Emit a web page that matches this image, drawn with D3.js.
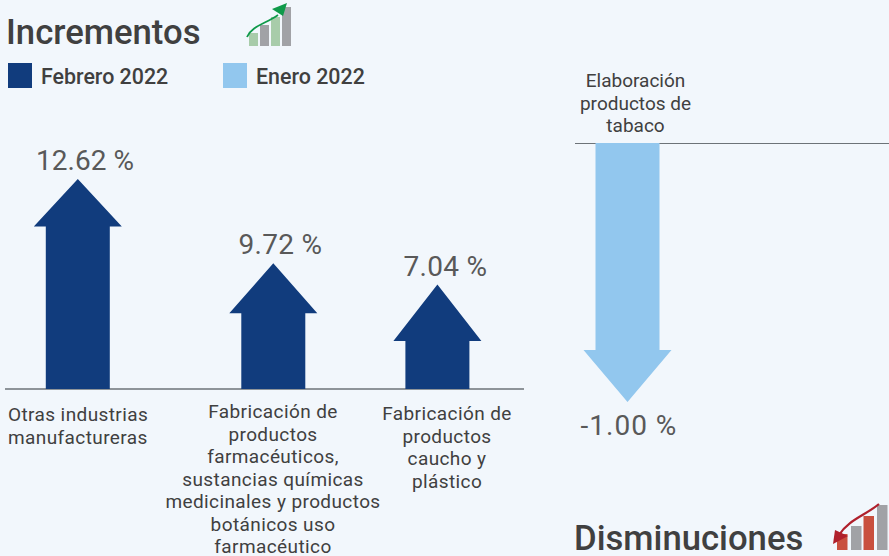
<!DOCTYPE html>
<html><head><meta charset="utf-8">
<script src="https://cdn.jsdelivr.net/npm/d3@7/dist/d3.min.js"></script>
<style>html,body{margin:0;padding:0;background:#f2f7fc}svg{display:block}text{font-family:Roboto,sans-serif;fill:#404040}</style>
</head><body><svg id="c" width="889" height="556"></svg>
<script>
const upCategories = [
  ["Otras industrias","manufactureras"],
  ["Fabricación de","productos","farmacéuticos,","sustancias químicas","medicinales y productos","botánicos uso","farmacéutico"],
  ["Fabricación de","productos","caucho y","plástico"]
];
const upValues = [12.62, 9.72, 7.04];
const downCategories = [["Elaboración","productos de","tabaco"]];
const downValues = [-1.00];
const legendLabels = ["Febrero 2022","Enero 2022"];
const colors = ["#113c7d","#92c7ee"];

const svg = d3.select("#c");
const fmt = v => v.toFixed(2) + " %";

// The source arrows are not proportional: the scale is piecewise through the three read values
const yUp = d3.scaleLinear().domain([0,7.04,9.72,12.62]).range([389,284.5,263.3,179]);
const yDown = d3.scaleLinear().domain([0,-1]).range([143,402]);
const xUp = d3.scaleOrdinal().domain(upValues).range([77.8,273.3,437.4]);
const xDown = d3.scaleOrdinal().domain(downValues).range([627.5]);
const headUp = d3.scaleOrdinal().domain(upValues).range([47.5,50,56.5]);

const headW=44, shaftW=32;
const arrow = (x,y0,y1,h)=>{
  const s = y1<y0 ? 1 : -1;
  return d3.line()([[x-shaftW,y0],[x-shaftW,y1+s*h],[x-headW,y1+s*h],[x,y1],[x+headW,y1+s*h],[x+shaftW,y1+s*h],[x+shaftW,y0]])+"Z";
};

// titles
svg.append("text").attr("x",6).attr("y",44).attr("font-size",34.7).style("font-weight",500).text("Incrementos");
svg.append("text").attr("x",574).attr("y",550).attr("font-size",34.7).style("font-weight",500).text("Disminuciones");

// legend
legendLabels.forEach((t,i)=>{
  const x=[8,223][i];
  svg.append("rect").attr("x",x).attr("y",63).attr("width",24).attr("height",25).attr("fill",colors[i]);
  svg.append("text").attr("x",x+33).attr("y",84).attr("font-size",21.4).style("font-weight",500).text(t);
});

// baselines
svg.append("line").attr("x1",5).attr("x2",524).attr("y1",389).attr("y2",389).attr("stroke","#6d7378").attr("stroke-width",1.4);
svg.append("line").attr("x1",575).attr("x2",889).attr("y1",143.5).attr("y2",143.5).attr("stroke","#6d7378");

// up arrows
svg.selectAll("path.up").data(upValues).join("path").attr("class","up")
  .attr("fill",colors[0]).attr("d",d=>arrow(xUp(d),yUp(0),yUp(d),headUp(d)));
svg.selectAll("text.uv").data(upValues).join("text").attr("class","uv")
  .attr("x",(d,i)=>[85,280.5,445.5][i]).attr("y",(d,i)=>yUp(d)-9)
  .attr("letter-spacing",(d,i)=>[0,0.3,0.3][i])
  .attr("text-anchor","middle").attr("font-size",28).style("fill","#595959").text(fmt);

// down arrow
svg.selectAll("path.down").data(downValues).join("path").attr("class","down")
  .attr("fill",colors[1]).attr("d",d=>arrow(xDown(d),yDown(0),yDown(d),52));
svg.selectAll("text.dv").data(downValues).join("text").attr("class","dv")
  .attr("x",629).attr("y",d=>yDown(d)+33).attr("letter-spacing",1).attr("text-anchor","middle").attr("font-size",28).style("fill","#595959").text(fmt);

// category labels
const lines=(arr,x,y,lh,anchor,fs,ls)=>{
  const t=svg.append("text").attr("font-size",fs).attr("text-anchor",anchor).attr("letter-spacing",ls);
  arr.forEach((s,i)=>t.append("tspan").attr("x",x).attr("y",y+i*lh).text(s));
};
lines(upCategories[0],8,421,22.5,"start",19,0.4);
lines(upCategories[1],273,418,22.5,"middle",19,0.4);
lines(upCategories[2],447,420,22.5,"middle",19,0.4);
lines(downCategories[0],635.5,87,22.5,"middle",19,0);

// icons
function icon(xs,w,tops,base,fills,curve,col,sw,tip){
  const g=svg.append("g");
  tops.forEach((t,i)=>g.append("rect").attr("x",xs[i]).attr("y",t).attr("width",w).attr("height",base-t).attr("fill",fills[i%2]));
  g.append("path").attr("d",curve).attr("fill","none").attr("stroke",col).attr("stroke-width",sw);
  g.append("path").attr("d",tip).attr("fill",col);
}
icon([249,260,271,282],9,[33,25,17,7],46,["#a8ccaa","#a1a2a6"],"M247,37C252,26 265,24 278,15","#0f9a4a",1.8,"M272,9L287,3L283,16Z");
icon([837,851,863.5,877],10.5,[534,526,516,505],550,["#c9503f","#a1a2a6"],"M879,504C866,515 848,520 839,535","#b0202c",2.2,"M833,544L835,530L848,536Z");
</script></body></html>
